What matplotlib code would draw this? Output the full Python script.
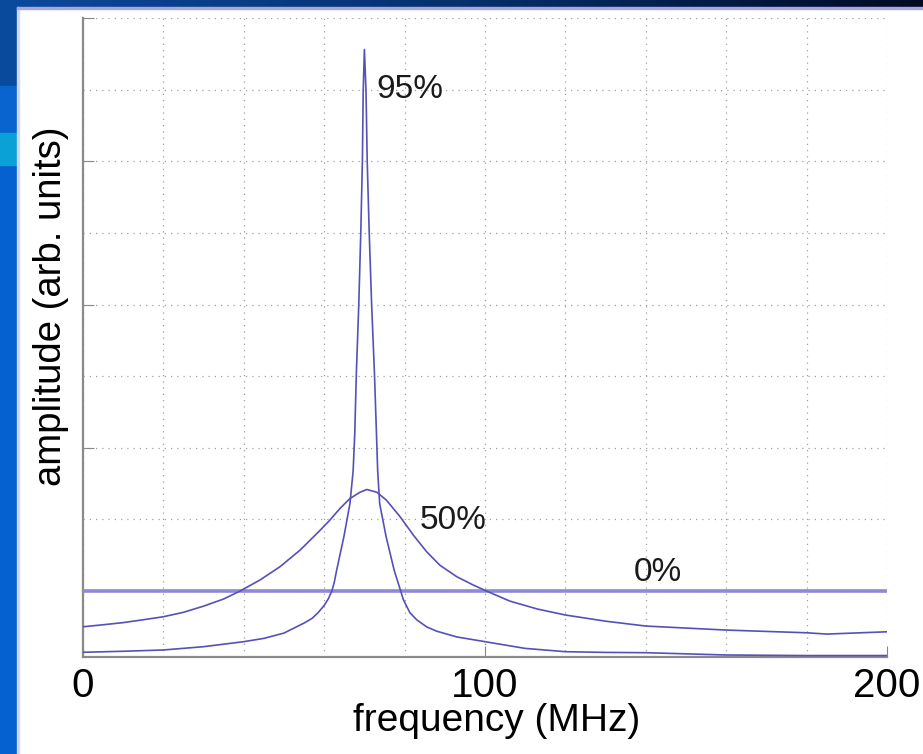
import matplotlib
matplotlib.use("Agg")
import matplotlib.pyplot as plt
import numpy as np
from matplotlib.patches import Rectangle
from matplotlib.colors import LinearSegmentedColormap

plt.rcParams['font.family'] = ['Liberation Sans', 'DejaVu Sans']

# 95% reflectivity curve (frequency MHz, amplitude)
f95 = [0, 10, 20, 30, 40, 45, 50, 55, 57, 58.5, 60, 61.0, 61.9, 62.5, 63.1, 64.9,
       66.4, 67.2, 67.6, 68.0, 68.6, 69.1, 69.5, 69.7, 70.0, 70.4, 70.7, 71.2, 71.8,
       72.5, 73.0, 73.3, 73.8, 75.4, 77.4, 79.7, 81.3, 83, 85.5, 88, 93, 100, 110,
       120, 130, 140, 160, 180, 200]
a95 = [0.573, 0.58, 0.589, 0.612, 0.647, 0.67, 0.707, 0.777, 0.81, 0.85, 0.90, 0.945,
       1.00, 1.06, 1.146, 1.38, 1.61, 1.84, 2.10, 2.52, 3.00, 3.50, 4.00, 4.49, 4.78,
       4.49, 4.00, 3.50, 3.00, 2.52, 2.10, 1.84, 1.61, 1.38, 1.146, 0.94, 0.85, 0.80,
       0.75, 0.72, 0.68, 0.647, 0.60, 0.577, 0.572, 0.57, 0.554, 0.55, 0.55]

# 50% reflectivity curve
f50 = [0, 5, 10, 15, 20, 25, 30, 35, 39.05, 44, 49, 54, 59, 61.4, 63.9, 66.4, 68.9,
       70.6, 73.1, 75.5, 78.9, 82.2, 85.5, 88.8, 93, 97.1, 100.4, 106.2, 113, 120,
       130, 140, 160, 180, 185, 200]
a50 = [0.751, 0.765, 0.78, 0.80, 0.821, 0.852, 0.895, 0.945, 1.00, 1.077, 1.17, 1.286,
       1.425, 1.495, 1.576, 1.646, 1.69, 1.709, 1.69, 1.634, 1.518, 1.39, 1.274, 1.18,
       1.10, 1.042, 1.00, 0.93, 0.875, 0.833, 0.79, 0.756, 0.728, 0.709, 0.70, 0.716]

# 0% reflectivity (flat)
f0 = [0, 200]
a0 = [1.0, 1.0]

labels = ['95%', '50%', '0%']
label_pos = [(81.3, 4.50), (92.0, 1.495), (143.0, 1.13)]

fig = plt.figure(figsize=(9.23, 7.54), dpi=100)
fig.patch.set_facecolor('white')

# slide frame: left strip pieces and top gradient bar
W, H = 923.0, 754.0
def px_rect(x0, y0, x1, y1, color):
    fig.patches.append(Rectangle((x0 / W, 1 - y1 / H), (x1 - x0) / W, (y1 - y0) / H,
                                 transform=fig.transFigure, color=color, zorder=0))
px_rect(0, 0, 17, 754, '#0560d0')
px_rect(0, 0, 17, 86, '#0a4a9c')
px_rect(0, 86, 17, 133, '#0a64cf')
px_rect(0, 133, 17, 165, '#0aa2d6')
px_rect(17, 7, 19, 754, '#cfd8ef')

bar = fig.add_axes([0, 1 - 7 / H, 1, 7 / H])
grad = np.linspace(0, 1, 256).reshape(1, -1)
cm = LinearSegmentedColormap.from_list('bar', ['#0b4a9c', '#06306e', '#000a24'])
bar.imshow(grad, aspect='auto', cmap=cm)
bar.axis('off')
px_rect(17, 7, 923, 9, '#a8a6dc')

ax = fig.add_axes([83 / W, 1 - 657 / H, (887 - 83) / W, (657 - 18) / H])
ax.plot(f0, a0, color='#8f8ad6', lw=2.6, zorder=3)
ax.plot(f50, a50, color='#5650b8', lw=1.2, zorder=4, solid_joinstyle='round')
ax.plot(f95, a95, color='#5650b8', lw=1.2, zorder=4, solid_joinstyle='round')

for lab, (x, y) in zip(labels, label_pos):
    ax.text(x, y, lab, fontsize=24, ha='center', va='center', color='#1a1a1a')

ax.set_xlim(0, 200)
ax.set_ylim(0.54, 5.0)
ax.set_xticks([0, 100, 200])
ax.set_xticklabels(['0', '100', '200'])
ax.set_xticks(np.arange(0, 201, 20), minor=True)
ax.set_yticks([1, 2, 3, 4, 5])
ax.set_yticklabels([])
ax.set_yticks(np.arange(1, 5.01, 0.5), minor=True)
ax.grid(True, which='both', linestyle=(0, (1, 4)), color='#a0a0a0', lw=0.9)
ax.tick_params(which='major', direction='in', length=8, color='#888888',
               labelsize=29, pad=7)
ax.tick_params(which='minor', length=0)
for s in ['top', 'right']:
    ax.spines[s].set_visible(False)
for s in ['left', 'bottom']:
    ax.spines[s].set_color('#8a8a8a')
    ax.spines[s].set_linewidth(1.6)

ax.set_xlabel('frequency (MHz)', fontsize=28)
ax.xaxis.set_label_coords(0.514, -0.072)
ax.set_ylabel('amplitude (arb. units)', fontsize=27.5)
ax.yaxis.set_label_coords(-0.018, 0.549)

fig.savefig('out.png', dpi=100)
